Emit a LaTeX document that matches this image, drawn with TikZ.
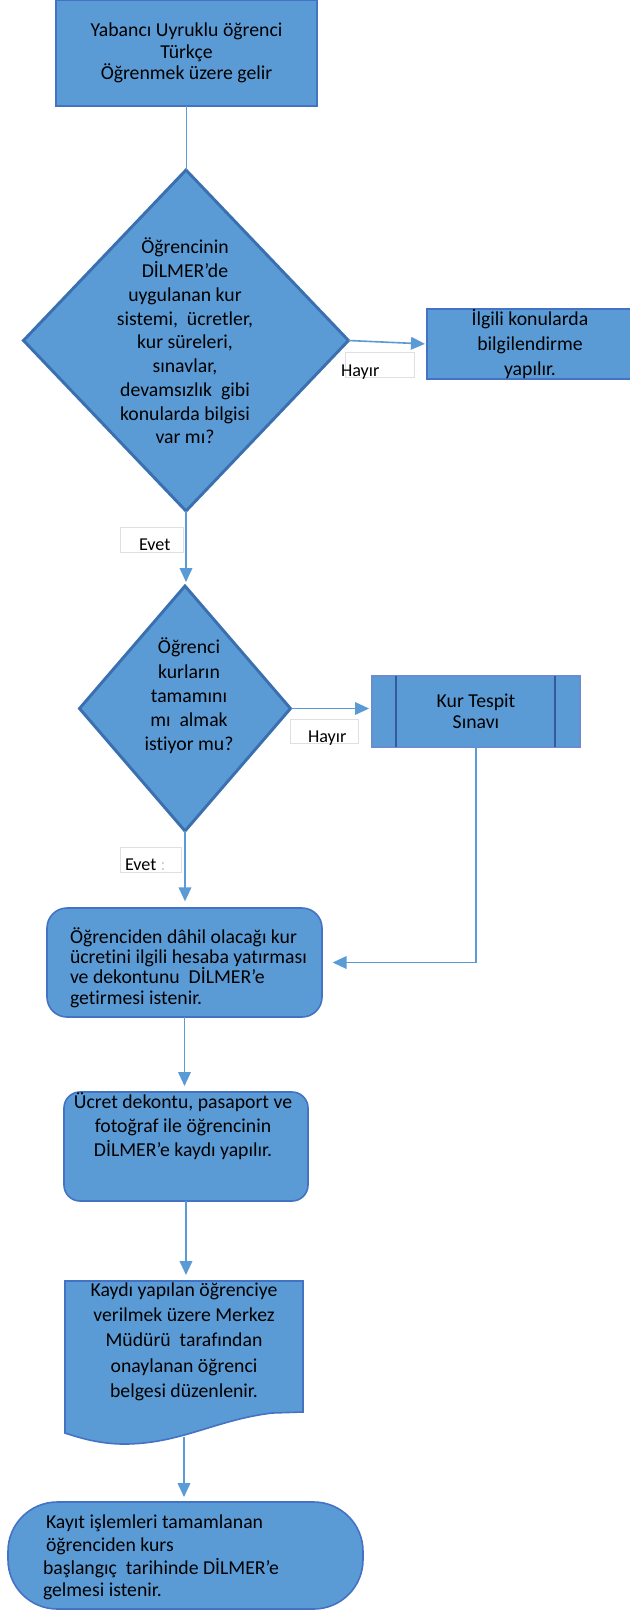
\documentclass[tikz,border=0pt]{standalone}
\usepackage{fontspec}
\setmainfont{Carlito}[Ligatures=NoCommon]
\usetikzlibrary{shapes.geometric,arrows.meta,calc}
\definecolor{boxfill}{HTML}{5B9BD5}
\definecolor{boxline}{HTML}{4472C4}
\definecolor{dline}{HTML}{3A70B0}
\definecolor{conncol}{HTML}{5B9BD5}
\def\pxu{0.75pt}
\begin{document}
\begin{tikzpicture}[x=0.75pt,y=-0.75pt,
  every node/.style={inner sep=0pt, outer sep=0pt},
  txt/.style={font=\fontsize{14.8}{#1}\selectfont, text=black},
  pbox/.style={rectangle, draw=boxline, line width=1.5pt, fill=boxfill},
  kbox/.style={rectangle, draw=boxline!80!white, line width=1.5pt, fill=boxfill},
  kline/.style={draw=boxline!80!black, line width=1pt},
  dec/.style={diamond, draw=dline, line width=2.2pt, fill=boxfill},
  rboxa/.style={rectangle, rounded corners=15pt, draw=boxline, line width=1.2pt, fill=boxfill},
  rboxb/.style={rectangle, rounded corners=12pt, draw=boxline, line width=1.2pt, fill=boxfill},
  termbox/.style={rectangle, rounded corners=37pt, draw=boxline, line width=1.2pt, fill=boxfill},
  lblbox/.style={rectangle, draw=gray!25, line width=0.4pt, fill=white},
  lbltext/.style={font=\fontsize{13.6}{16}\selectfont, anchor=base west, text=black},
  conn/.style={draw=conncol, line width=1.2pt},
  arr/.style={conn, -{Triangle[length=10.5pt,width=9.5pt]}}
]
\useasboundingbox (0,0) rectangle (629,1611);
\fill[white] (0,0) rectangle (629,1611);

% start box
\node[pbox, minimum width=261*\pxu, minimum height=106*\pxu, txt=16pt, align=center] (start) at (186.5,53)
  {Yabancı Uyruklu öğrenci\\Türkçe\\Öğrenmek üzere gelir};

% decision 1
\node[dec, minimum width=325*\pxu, minimum height=341*\pxu] (d1) at (186,340.5) {};
\node[txt=17.8pt, align=center] (d1t) at (185,341)
  {Öğrencinin\\DİLMER’de\\uygulanan kur\\sistemi,\ \ ücretler,\\kur süreleri,\\sınavlar,\\devamsızlık\ \ gibi\\konularda bilgisi\\var mı?};

% info box
\node[pbox, minimum width=206*\pxu, minimum height=70*\pxu, txt=18.4pt, align=center] (info) at (530,344)
  {İlgili konularda\\bilgilendirme\\yapılır.};

% decision 2
\node[dec, minimum width=211*\pxu, minimum height=245*\pxu] (d2) at (185,708.5) {};
\node[txt=18.2pt, align=center] (d2t) at (189,696)
  {Öğrenci\\kurların\\tamamını\\mı\ \ almak\\istiyor mu?};

% predefined process
\node[kbox, minimum width=208*\pxu, minimum height=71*\pxu, txt=15.75pt, align=center] (kt) at (476,711.5)
  {Kur Tespit\\Sınavı};
\draw[kline] ($(kt.north west)+(24,0)$) -- ($(kt.south west)+(24,0)$);
\draw[kline] ($(kt.north east)+(-25,0)$) -- ($(kt.south east)+(-25,0)$);

% payment box
\node[rboxa, minimum width=275*\pxu, minimum height=109*\pxu] (pay) at (184.5,962.5) {};
\node[txt=15.2pt, align=left, anchor=west] (payt) at (70,967.5)
  {Öğrenciden dâhil olacağı kur\\ücretini ilgili hesaba yatırması\\ve dekontunu\ \ DİLMER’e\\getirmesi istenir.};

% registration box
\node[rboxb, minimum width=244*\pxu, minimum height=109*\pxu] (reg) at (186,1146.5) {};
\node[txt=18pt, align=center] (regt) at (183,1126)
  {Ücret dekontu, pasaport ve\\fotoğraf ile öğrencinin\\DİLMER’e kaydı yapılır.};

% document shape
\filldraw[fill=boxfill, draw=boxline, line width=1.2pt]
  (65,1281) -- (303,1281) -- (303,1412) -- (272,1413)
  .. controls (215,1420) and (180,1444) .. (124,1444)
  .. controls (100,1444) and (80,1438) .. (65,1433) -- cycle;
\node[minimum width=238*\pxu, minimum height=156*\pxu] (doc) at (184,1359) {};
\node[txt=19pt, align=center] (doct) at (184,1341.5)
  {Kaydı yapılan öğrenciye\\verilmek üzere Merkez\\Müdürü\ \ tarafından\\onaylanan öğrenci\\belgesi düzenlenir.};

% terminal
\node[termbox, minimum width=355*\pxu, minimum height=107*\pxu] (term) at (185.5,1555.5) {};
\node[txt=17pt, align=left, anchor=west] (termt) at (43,1557.5)
  {\hspace{2.25pt}Kayıt işlemleri tamamlanan\\\hspace{2.25pt}öğrenciden kurs\\başlangıç\ \ tarihinde DİLMER’e\\gelmesi istenir.};

% connectors
\draw[conn] (start.south) -- (start.south |- d1.north);
\draw[arr, shorten >=1.5pt] (d1.east) -- (info.west);
\draw[arr, shorten >=3pt] (d1.south) -- (d1.south |- d2.north);
\draw[arr, shorten >=2.25pt] (d2.east) -- (d2.east -| kt.west);
\draw[arr, shorten >=5pt] (d2.south) -- (d2.south |- pay.north);
\draw[arr, shorten >=8pt] (kt.south) |- (pay.east);
\draw[arr, shorten >=4.5pt] (pay.south) -- (pay.south |- reg.north);
\draw[arr, shorten >=4.5pt] (reg.south) -- (reg.south |- doc.north);
\draw[arr, shorten >=3.75pt] (doc.south) -- (doc.south |- term.north);

% labels
\node[lblbox, minimum width=69*\pxu, minimum height=25*\pxu] (h1) at (379.5,364.5) {};
\node[lbltext] (h1t) at (341,376) {Hayır};
\node[lblbox, minimum width=63*\pxu, minimum height=25*\pxu] (e1) at (151.5,539.5) {};
\node[lbltext] (e1t) at (139,550) {Evet};
\node[lblbox, minimum width=68*\pxu, minimum height=24*\pxu] (h2) at (324,731) {};
\node[lbltext] (h2t) at (308,742) {Hayır};
\node[lblbox, minimum width=61*\pxu, minimum height=25*\pxu] (e2) at (150.5,859.5) {};
\node[lbltext] (e2t) at (125,870) {Evet \textcolor{gray!40}{:}};
\end{tikzpicture}
\end{document}
